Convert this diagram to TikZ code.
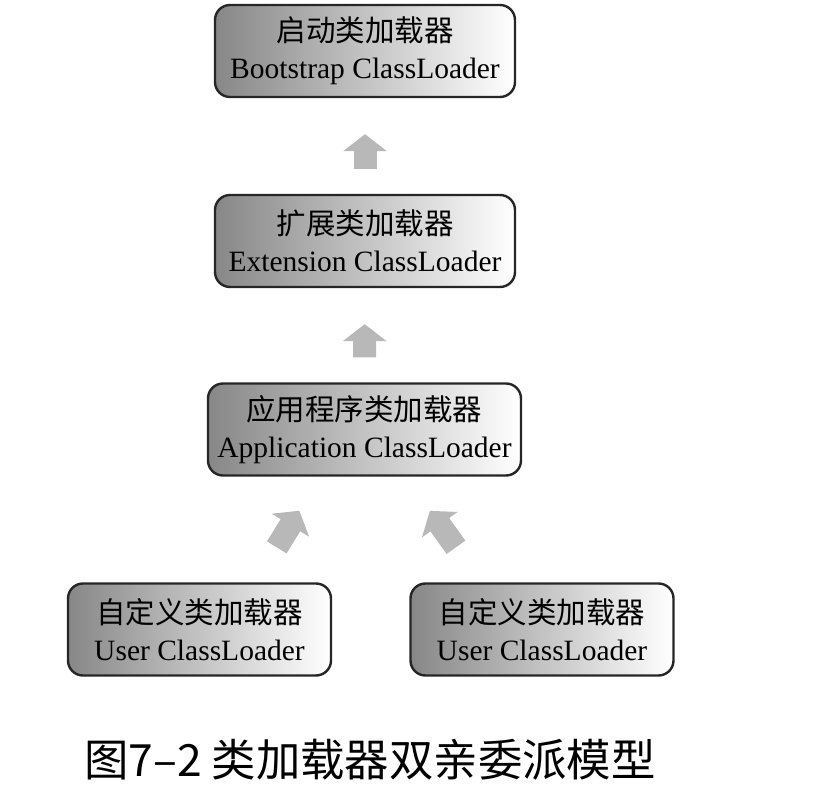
\documentclass[tikz,border=0pt]{standalone}
\usepackage{fontspec}
\setmainfont{Liberation Serif}
\newfontfamily\cjk{Noto Sans CJK SC}
\usetikzlibrary{arrows.meta, calc}
\tikzstyle{loader} = [draw=black!85, line width=1.2pt, rounded corners=7.5pt, left color=black!47, right color=white, align=center, inner sep=0pt, minimum height=46pt, font=\fontsize{14.75}{18.5}\selectfont]
\tikzstyle{arrow} = [line width=11.5pt, draw=black!28, -{Triangle[length=8.5pt,width=21.5pt]}]
\newcommand{\zh}[1]{{\cjk #1}}

\begin{document}
\begin{tikzpicture}[x=0.5pt,y=-0.5pt]
            \useasboundingbox (0,0) rectangle (820,812);
            \node[loader, minimum width=150pt] (boot) at (365,51) {\zh{启动类加载器}\\Bootstrap ClassLoader};
            \node[loader, minimum width=150pt] (ext) at (365,241) {\zh{扩展类加载器}\\Extension ClassLoader};
            \node[loader, minimum width=156.5pt] (app) at (364.5,429.5) {\zh{应用程序类加载器}\\Application ClassLoader};
            \node[loader, minimum width=131.5pt] (user1) at (199.5,629.5) {\zh{自定义类加载器}\\User ClassLoader};
            \node[loader, minimum width=131.5pt] (user2) at (542,629.5) {\zh{自定义类加载器}\\User ClassLoader};
            \draw [arrow, shorten <=12.5pt, shorten >=18pt] (ext) -- (boot);
            \draw [arrow, shorten <=12.5pt, shorten >=18pt] (app) -- (ext);
            \draw [arrow, shorten <=20.5pt, shorten >=20pt] ($(user1.north west)!0.71!(user1.north east)$) -- ($(app.south west)!0.36!(app.south east)$);
            \draw [arrow, shorten <=21.5pt, shorten >=21pt] ($(user2.north west)!0.27!(user2.north east)$) -- ($(app.south west)!0.63!(app.south east)$);
            \node[font=\cjk\fontsize{22.2}{26}\selectfont] (caption) at (370,760) {图7–2 类加载器双亲委派模型};
        \end{tikzpicture}
\end{document}
